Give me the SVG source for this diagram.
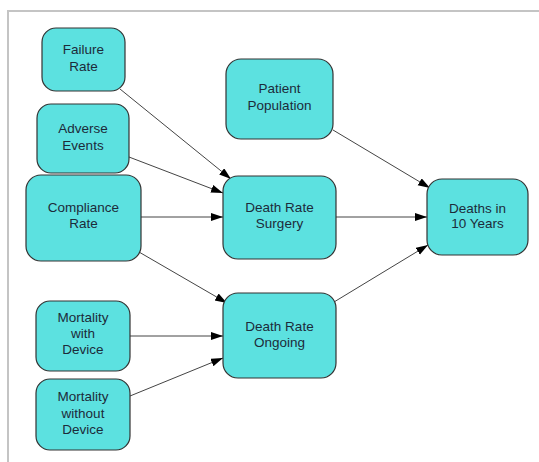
<svg xmlns="http://www.w3.org/2000/svg" width="539" height="462" viewBox="0 0 539 462">
<style>
.node rect{fill:#5ce1e0;stroke:#333;stroke-width:1.2}
.node text{font-family:"Liberation Sans",Arial,sans-serif;font-size:13.5px;fill:#1c2b3a;text-anchor:middle}
.edge{stroke:#444;stroke-width:1;fill:none;marker-end:url(#ah)}
</style>
<defs>
<marker id="ah" markerUnits="userSpaceOnUse" markerWidth="13" markerHeight="9" refX="12" refY="4" orient="auto">
<path d="M0,0 L12,4 L0,8 z" fill="#000"/>
</marker>
</defs>
<rect x="0" y="0" width="539" height="462" fill="#fff"/>
<line x1="7" y1="11" x2="539" y2="11" stroke="#c4c4c4" stroke-width="2"/>
<line x1="8" y1="10" x2="8" y2="462" stroke="#c4c4c4" stroke-width="2"/>
<g id="connectors">
<line class="edge" x1="120" y1="89" x2="231" y2="179"/>
<line class="edge" x1="129" y1="157" x2="223" y2="193"/>
<line class="edge" x1="141" y1="217" x2="223" y2="217"/>
<line class="edge" x1="139" y1="252" x2="227" y2="303"/>
<line class="edge" x1="130" y1="336" x2="223" y2="336"/>
<line class="edge" x1="130" y1="396" x2="223" y2="358"/>
<line class="edge" x1="333" y1="130" x2="430" y2="188"/>
<line class="edge" x1="336" y1="217" x2="427" y2="217"/>
<line class="edge" x1="334" y1="302" x2="428" y2="245"/>
</g>
<g id="failure-rate" class="node"><rect x="42" y="28" width="83" height="63" rx="14"/><text x="83.5" y="54">Failure</text><text x="83.5" y="71">Rate</text></g>
<g id="adverse-events" class="node"><rect x="37" y="104" width="92" height="69" rx="14"/><text x="83" y="133">Adverse</text><text x="83" y="150">Events</text></g>
<g id="compliance-rate" class="node"><rect x="26" y="175" width="115" height="86" rx="15"/><text x="83.5" y="212">Compliance</text><text x="83.5" y="228">Rate</text></g>
<g id="patient-population" class="node"><rect x="226" y="59" width="107" height="80" rx="15"/><text x="279.5" y="93">Patient</text><text x="279.5" y="110">Population</text></g>
<g id="death-rate-surgery" class="node"><rect x="223" y="176" width="113" height="83" rx="15"/><text x="279.5" y="212">Death Rate</text><text x="279.5" y="228">Surgery</text></g>
<g id="deaths-10-years" class="node"><rect x="427" y="179" width="101" height="76" rx="15"/><text x="477.5" y="213">Deaths in</text><text x="477.5" y="228">10 Years</text></g>
<g id="death-rate-ongoing" class="node"><rect x="223" y="293" width="113" height="85" rx="15"/><text x="279.5" y="331">Death Rate</text><text x="279.5" y="347">Ongoing</text></g>
<g id="mortality-with-device" class="node"><rect x="36" y="301" width="94" height="70" rx="14"/><text x="83" y="322">Mortality</text><text x="83" y="338">with</text><text x="83" y="354">Device</text></g>
<g id="mortality-without-device" class="node"><rect x="36" y="379" width="94" height="71" rx="14"/><text x="83" y="401">Mortality</text><text x="83" y="418">without</text><text x="83" y="434">Device</text></g>
</svg>
